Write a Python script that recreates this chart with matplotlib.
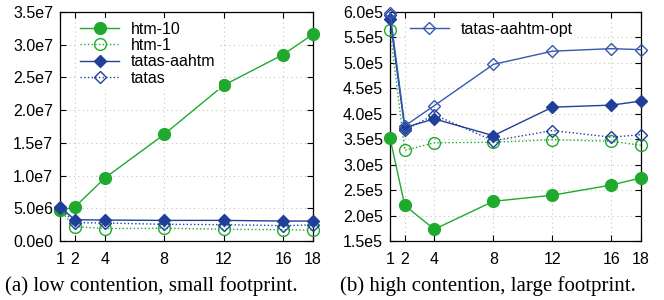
import matplotlib
matplotlib.use("Agg")
import matplotlib.pyplot as plt
from matplotlib.ticker import FuncFormatter
import numpy as np

threads = [1, 2, 4, 8, 12, 16, 18]

# (a) low contention, small footprint
a_htm10 = [4.7e6, 5.2e6, 9.6e6, 16.3e6, 23.8e6, 28.5e6, 31.6e6]
a_htm1 = [4.7e6, 2.2e6, 1.9e6, 1.95e6, 1.8e6, 1.72e6, 1.65e6]
a_tatas_aahtm = [5.2e6, 3.25e6, 3.2e6, 3.15e6, 3.15e6, 3.05e6, 3.05e6]
a_tatas = [5.0e6, 2.8e6, 2.75e6, 2.55e6, 2.5e6, 2.35e6, 2.45e6]

# (b) high contention, large footprint
b_htm10 = [3.52e5, 2.20e5, 1.73e5, 2.28e5, 2.40e5, 2.60e5, 2.74e5]
b_htm1 = [5.64e5, 3.28e5, 3.43e5, 3.44e5, 3.49e5, 3.46e5, 3.38e5]
b_tatas_aahtm = [5.87e5, 3.73e5, 3.90e5, 3.57e5, 4.13e5, 4.17e5, 4.25e5]
b_tatas = [5.95e5, 3.68e5, 3.98e5, 3.47e5, 3.67e5, 3.54e5, 3.59e5]
b_tatas_opt = [5.99e5, 3.76e5, 4.16e5, 4.97e5, 5.23e5, 5.28e5, 5.26e5]

captions = ["(a) low contention, small footprint.", "(b) high contention, large footprint."]

GREEN = "#1faa2e"
BLUE = "#1f3f99"
BLUE2 = "#3558b0"

plt.rcParams['font.family'] = ['Liberation Sans', 'DejaVu Sans']
FS = 11.5

fig = plt.figure(figsize=(6.64, 3.0), dpi=100)
ax1 = fig.add_axes([60/664, 1 - 241/300, 253/664, 229/300])
ax2 = fig.add_axes([390/664, 1 - 241/300, 251/664, 229/300])

def sci(v, pos):
    if v == 0:
        return "0.0e0"
    s = "%.1e" % v
    m, e = s.split("e")
    return "%se%d" % (m, int(e))

def style(ax, ylim, step):
    ax.set_xlim(1, 18)
    ax.set_xticks(threads)
    ax.set_ylim(*ylim)
    ax.set_yticks(np.arange(ylim[0], ylim[1] + step / 2, step))
    ax.yaxis.set_major_formatter(FuncFormatter(sci))
    ax.tick_params(direction="in", top=True, right=True, length=4, width=0.8, labelsize=FS)
    ax.tick_params(axis="x", pad=8)
    ax.tick_params(axis="y", pad=5)
    ax.grid(True, linestyle=(0, (1, 3)), color="#c8c8b0", linewidth=0.8)
    for sp in ax.spines.values():
        sp.set_linewidth(0.9)

def plot_common(ax, htm10, htm1, taa, tat):
    ax.plot(threads, htm10, "-", color=GREEN, lw=1.0, marker="o", ms=8.5, mfc=GREEN, mec=GREEN, label="htm-10", clip_on=False, zorder=5)
    ax.plot(threads, htm1, ":", color=GREEN, lw=1.0, marker="o", ms=8.5, mfc="none", mec=GREEN, mew=1.0, label="htm-1", clip_on=False, zorder=4)
    ax.plot(threads, taa, "-", color=BLUE, lw=1.0, marker="D", ms=6.5, mfc=BLUE, mec=BLUE, label="tatas-aahtm", clip_on=False, zorder=6)
    ax.plot(threads, tat, ":", color=BLUE, lw=1.0, marker="D", ms=6.5, mfc="none", mec=BLUE, mew=1.0, label="tatas", clip_on=False, zorder=6)

legkw = dict(loc="upper left", frameon=True, fancybox=False, edgecolor="none", framealpha=1,
             handlelength=2.4, handletextpad=0.75, borderaxespad=0.0, borderpad=0.25,
             labelspacing=0.08, fontsize=FS, bbox_to_anchor=(0.065, 0.975))

plot_common(ax1, a_htm10, a_htm1, a_tatas_aahtm, a_tatas)
style(ax1, (0, 3.5e7), 0.5e7)
ax1.legend(**legkw)

plot_common(ax2, b_htm10, b_htm1, b_tatas_aahtm, b_tatas)
ax2.plot(threads, b_tatas_opt, "-", color=BLUE2, lw=1.0, marker="D", ms=6.5, mfc="none", mec=BLUE2, mew=1.0, label="tatas-aahtm-opt", clip_on=False, zorder=7)
style(ax2, (1.5e5, 6.0e5), 0.5e5)
h, l = ax2.get_legend_handles_labels()
ax2.legend([h[-1]], [l[-1]], **legkw)

fig.text(5/664, 1 - 286/300, captions[0], family=['Liberation Serif', 'DejaVu Serif'], fontsize=15, ha="left", va="center")
fig.text(340/664, 1 - 286/300, captions[1], family=['Liberation Serif', 'DejaVu Serif'], fontsize=15, ha="left", va="center")

fig.savefig("out.png", dpi=100)
